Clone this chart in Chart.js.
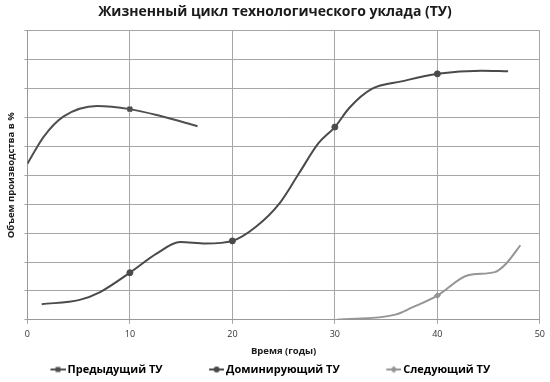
<!DOCTYPE html>
<html>
<head>
<meta charset="utf-8">
<script src="https://cdn.jsdelivr.net/npm/chart.js@4.4.1/dist/chart.umd.min.js"></script>
<style>
  body { margin: 0; background: #fff; }
</style>
</head>
<body>
<canvas id="chart" width="550" height="382"></canvas>
<script>
'use strict';

// x = years, y = % of production
let prevX = [0, 1.6, 3.5, 6.8, 10, 13, 16.6];
let prevY = [54, 63.4, 70.3, 74, 72.9, 70.5, 67];

let domX = [1.4, 5.1, 7.1, 10, 12.6, 14.9, 17.4, 20, 22.3, 24.6, 26.5, 28.4, 30, 31.4, 33.6, 36.5, 40, 44.3, 46.9];
let domY = [5.4, 6.9, 9.6, 16.3, 22.9, 26.9, 26.4, 27.3, 32.2, 40.3, 50.7, 61.1, 66.7, 73.3, 79.9, 82.5, 85.1, 86.2, 86.0];

let nextX = [30.2, 35.9, 37.5, 40, 43, 45.6, 46.7, 48.1];
let nextY = [0, 1.8, 4.2, 8.4, 15.4, 16.5, 19.4, 25.8];

let seriesNames = ['Предыдущий ТУ', 'Доминирующий ТУ', 'Следующий ТУ'];
let xTicks = [0, 10, 20, 30, 40, 50];

function toPoints(xs, ys) {
  let pts = [];
  for (let i = 0; i < xs.length; i++) {
    pts.push({ x: xs[i], y: ys[i] });
  }
  return pts;
}

// markers only on the decade points (not at 0)
function markers(xs, r) {
  return xs.map(x => (x > 0 && x % 10 === 0 ? r : 0));
}

// legend symbol: line with a marker, drawn at the right end of a wide canvas
// so it sits right before the text and leaves a gap to the previous item
function legendIcon(color, shape) {
  let c = document.createElement('canvas');
  c.width = 60;
  c.height = 10;
  let g = c.getContext('2d');
  g.strokeStyle = color;
  g.fillStyle = color;
  g.lineWidth = 2;
  g.beginPath();
  g.moveTo(45, 5);
  g.lineTo(60, 5);
  g.stroke();
  g.beginPath();
  if (shape === 'rect') {
    g.rect(50, 2.5, 5, 5);
  } else if (shape === 'circle') {
    g.arc(52.5, 5, 3, 0, Math.PI * 2);
  } else {
    g.moveTo(52.5, 1.5); g.lineTo(56, 5); g.lineTo(52.5, 8.5); g.lineTo(49, 5); g.closePath();
  }
  g.fill();
  return c;
}

let colors = ['#4f4f4f', '#4a4a4a', '#959595'];
let shapes = ['rect', 'circle', 'rectRot'];
let icons = [legendIcon(colors[0], 'rect'), legendIcon(colors[1], 'circle'), legendIcon(colors[2], 'diamond')];

function makeDataset(i, xs, ys) {
  return {
    label: seriesNames[i],
    data: toPoints(xs, ys),
    showLine: true,
    borderColor: colors[i],
    backgroundColor: colors[i],
    borderWidth: 2,
    cubicInterpolationMode: 'monotone',
    pointStyle: shapes[i],
    pointRadius: markers(xs, 3),
    pointBorderWidth: 1,
    pointHoverRadius: 0
  };
}

const data = {
  datasets: [
    makeDataset(0, prevX, prevY),
    makeDataset(1, domX, domY),
    makeDataset(2, nextX, nextY)
  ]
};

const config = {
  type: 'scatter',
  data: data,
  options: {
    responsive: false,
    animation: false,
    layout: { padding: { left: 4, right: 4, top: 2, bottom: -3 } },
    plugins: {
      tooltip: { enabled: false },
      title: {
        display: true,
        text: 'Жизненный цикл технологического уклада (ТУ)',
        color: '#1a1a1a',
        font: { family: 'Open Sans', size: 14, weight: 'bold' },
        padding: { top: 2, bottom: 10 }
      },
      legend: {
        position: 'bottom',
        align: 'start',
        labels: {
          usePointStyle: true,
          pointStyleWidth: 53,
          padding: 5,
          color: '#1a1a1a',
          font: { family: 'Open Sans', size: 11, weight: 'bold' },
          generateLabels: function() {
            return seriesNames.map((name, i) => ({
              text: name,
              pointStyle: icons[i],
              fillStyle: colors[i],
              strokeStyle: colors[i],
              lineWidth: 0,
              datasetIndex: i
            }));
          }
        }
      }
    },
    scales: {
      x: {
        type: 'linear',
        min: 0,
        max: 50,
        afterBuildTicks: axis => { axis.ticks = xTicks.map(v => ({ value: v })); },
        ticks: { color: '#333', font: { family: 'Open Sans', size: 9 }, padding: 5 },
        grid: { color: '#a6a6a6', tickLength: 4 },
        border: { color: '#999' },
        title: {
          display: true,
          text: 'Время (годы)',
          color: '#1a1a1a',
          font: { family: 'Open Sans', size: 9.5, weight: 'bold' },
          padding: { top: 1, bottom: 2 }
        }
      },
      y: {
        min: 0,
        max: 100,
        ticks: { display: false, stepSize: 10 },
        grid: { color: '#a6a6a6', tickLength: 3 },
        border: { color: '#999' },
        title: {
          display: true,
          text: 'Объем производства в %',
          color: '#1a1a1a',
          font: { family: 'Open Sans', size: 9.5, weight: 'bold' },
          padding: { top: 2, bottom: 7 }
        }
      }
    }
  }
};

const myChart = new Chart(document.getElementById('chart'), config);
</script>
</body>
</html>
